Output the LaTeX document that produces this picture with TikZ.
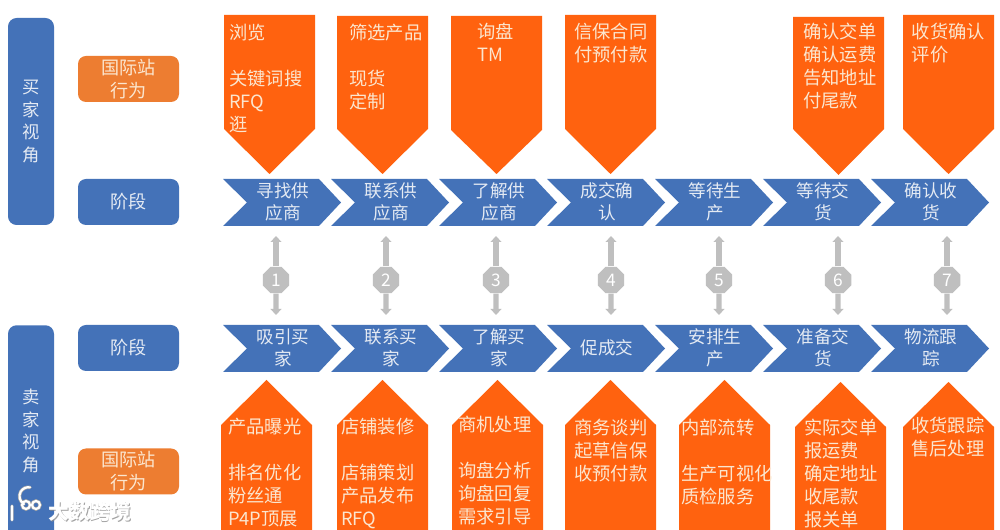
\documentclass[tikz,border=0pt]{standalone}
\usepackage{fontspec}
\setmainfont{Noto Sans CJK SC}
\usetikzlibrary{arrows.meta,shapes.geometric}
\definecolor{bluebox}{HTML}{4472B8}
\definecolor{orangebox}{HTML}{ED7D31}
\definecolor{orangeshape}{HTML}{FF620F}
\definecolor{palegray}{HTML}{BFBFBF}
\definecolor{cream}{HTML}{FBE6CF}
\definecolor{paleblue}{HTML}{E4EAF3}
\tikzset{
  barbox/.style={fill=bluebox,rounded corners=6.5pt,minimum width=34.5pt,inner sep=0pt},
  rolebox/.style={fill=orangebox,rounded corners=6pt,minimum width=75.75pt,minimum height=34.5pt,inner sep=0pt,text=cream,font=\fontsize{13.6pt}{17.2pt}\selectfont,align=center},
  stagebox/.style={rolebox,fill=bluebox,text=paleblue},
  tagshape/.style={fill=orangeshape},
  chevshape/.style={fill=bluebox},
  tagtext/.style={text=cream,font=\fontsize{13.7pt}{17.1pt}\selectfont,align=left,inner sep=0pt,anchor=north west,yshift=-2.4pt},
  chevtext/.style={text=paleblue,font=\fontsize{13.2pt}{16.6pt}\selectfont,align=center,inner sep=0pt},
  bartext/.style={text=paleblue,font=\fontsize{13pt}{16.9pt}\selectfont,align=center,inner sep=0pt},
  numnode/.style={regular polygon,regular polygon sides=8,fill=palegray,text=white,minimum size=21.5pt,inner sep=0pt,font=\fontsize{13pt}{13pt}\selectfont},
  link/.style={draw=palegray,line width=3.8pt,-{Triangle[width=8pt,length=4.5pt]}},
  marktext/.style={font=\fontsize{15.5pt}{16pt}\selectfont\bfseries,inner sep=0pt},
}
\newcommand{\dnTag}[6]{% name, xl, xr, top, shoulder, tip
  \pgfmathsetmacro{\xm}{(#2+#3)/2}
  \fill[tagshape] (#2,#4) -- (#3,#4) -- (#3,#5) -- (\xm,#6) -- (#2,#5) -- cycle;
}
\newcommand{\upTag}[5]{% name, xl, xr, apex, shoulder
  \pgfmathsetmacro{\xm}{(#2+#3)/2}
  \fill[tagshape] (#2,535) -- (#3,535) -- (#3,#5) -- (\xm,#4) -- (#2,#5) -- cycle;
}
\newcommand{\chev}[4]{% x, top, name, text
  \pgfmathsetmacro{\xa}{#1}
  \pgfmathsetmacro{\ya}{#2}
  \fill[chevshape] (\xa,\ya) -- (\xa+96,\ya) -- (\xa+118,\ya+23.5) -- (\xa+96,\ya+47) -- (\xa,\ya+47) -- (\xa+24,\ya+23.5) -- cycle;
  \node[chevtext] (#3) at (\xa+60,\ya+23) {#4};
}
\begin{document}
\begin{tikzpicture}[x=0.75pt,y=-0.75pt]
\clip (0,0) rectangle (1000,530);
\fill[white] (0,0) rectangle (1000,530);

% left bars
\node[barbox,minimum height=155.25pt] (buyerbar) at (31,121.5) {};
\node[bartext] (buyerbartext) at (buyerbar.center) {买\\家\\视\\角};
\node[barbox,minimum height=180pt,anchor=north] (sellerbar) at (31,325) {};
\node[bartext] (sellerbartext) at (31,431) {卖\\家\\视\\角};

% role and stage boxes
\node[rolebox] (buyerrole) at (128.5,79) {国际站\\行为};
\node[stagebox] (buyerstage) at (128.5,202) {阶段};
\node[stagebox] (sellerstage) at (128.5,348) {阶段};
\node[rolebox] (sellerrole) at (128.5,471.5) {国际站\\行为};

% buyer tags
\dnTag{b1}{224}{315}{15}{129}{174}
\dnTag{b2}{337}{428}{16}{129}{174}
\dnTag{b3}{451}{542}{16}{130}{174}
\dnTag{b4}{565}{656}{15}{129}{174}
\dnTag{b6}{793}{884}{17}{129}{175}
\dnTag{b7}{903}{994}{15}{129}{174}
\node[tagtext] (bt1) at (229,21) {浏览\\[17.1pt]关键词搜\\RFQ\\逛};
\node[tagtext] (bt2) at (349,21) {筛选产品\\[17.1pt]现货\\定制};
\node[tagtext] (bt3) at (477,20) {询盘\\TM};
\node[tagtext] (bt4) at (574,20) {信保合同\\付预付款};
\node[tagtext] (bt6) at (803,20) {确认交单\\确认运费\\告知地址\\付尾款};
\node[tagtext] (bt7) at (911.5,20) {收货确认\\评价};

% seller tags
\upTag{s1}{221}{312}{380}{425}
\upTag{s2}{337}{428}{380}{425}
\upTag{s3}{452}{543}{380}{425}
\upTag{s4}{565}{656}{380}{425}
\upTag{s5}{679}{770}{380}{425}
\upTag{s6}{795}{886}{382}{427}
\upTag{s7}{903}{994}{382}{427}
\node[tagtext] (st1) at (228,415) {产品曝光\\[17.1pt]排名优化\\粉丝通\\P4P顶展};
\node[tagtext] (st2) at (341,415) {店铺装修\\[17.1pt]店铺策划\\产品发布\\RFQ};
\node[tagtext] (st3) at (458,413) {商机处理\\[17.1pt]询盘分析\\询盘回复\\需求引导};
\node[tagtext] (st4) at (574,416) {商务谈判\\起草信保\\收预付款};
\node[tagtext] (st5) at (681,416) {内部流转\\[17.1pt]生产可视化\\质检服务};
\node[tagtext] (st6) at (804,416) {实际交单\\报运费\\确定地址\\收尾款\\报关单};
\node[tagtext] (st7) at (911,414) {收货跟踪\\售后处理};

% chevrons
\chev{223}{179}{bc1}{寻找供\\应商}
\chev{331}{179}{bc2}{联系供\\应商}
\chev{439}{179}{bc3}{了解供\\应商}
\chev{547}{179}{bc4}{成交确\\认}
\chev{655}{179}{bc5}{等待生\\产}
\chev{763}{179}{bc6}{等待交\\货}
\chev{871}{179}{bc7}{确认收\\货}
\chev{223}{325}{sc1}{吸引买\\家}
\chev{331}{325}{sc2}{联系买\\家}
\chev{439}{325}{sc3}{了解买\\家}
\chev{547}{325}{sc4}{促成交}
\chev{655}{325}{sc5}{安排生\\产}
\chev{763}{325}{sc6}{准备交\\货}
\chev{871}{325}{sc7}{物流跟\\踪}

% numbered links
\foreach \i/\x in {1/276,2/386,3/496,4/611,5/719,6/838,7/947}{
  \coordinate (up\i) at (\x,236);
  \coordinate (dn\i) at (\x,315);
  \node[numnode] (n\i) at (\x,280) {\i};
  \draw[link] (n\i) -- (up\i);
  \draw[link] (n\i) -- (dn\i);
}

% watermark
\node[marktext,text=black!45,opacity=.8] (markshadow) at (90.8,512.8) {大数跨境};
\node[marktext,text=white] (mark) at (90,512) {大数跨境};
\draw[black!35,line width=2.6pt,line cap=round] (12,506) -- (12,520) (24,504) arc (120:280:9) (36,505) circle (4) (26,505) circle (4);
\draw[white,line width=1.6pt,line cap=round] (12,506) -- (12,520) (24,504) arc (120:280:9) (36,505) circle (4) (26,505) circle (4);
\end{tikzpicture}
\end{document}
